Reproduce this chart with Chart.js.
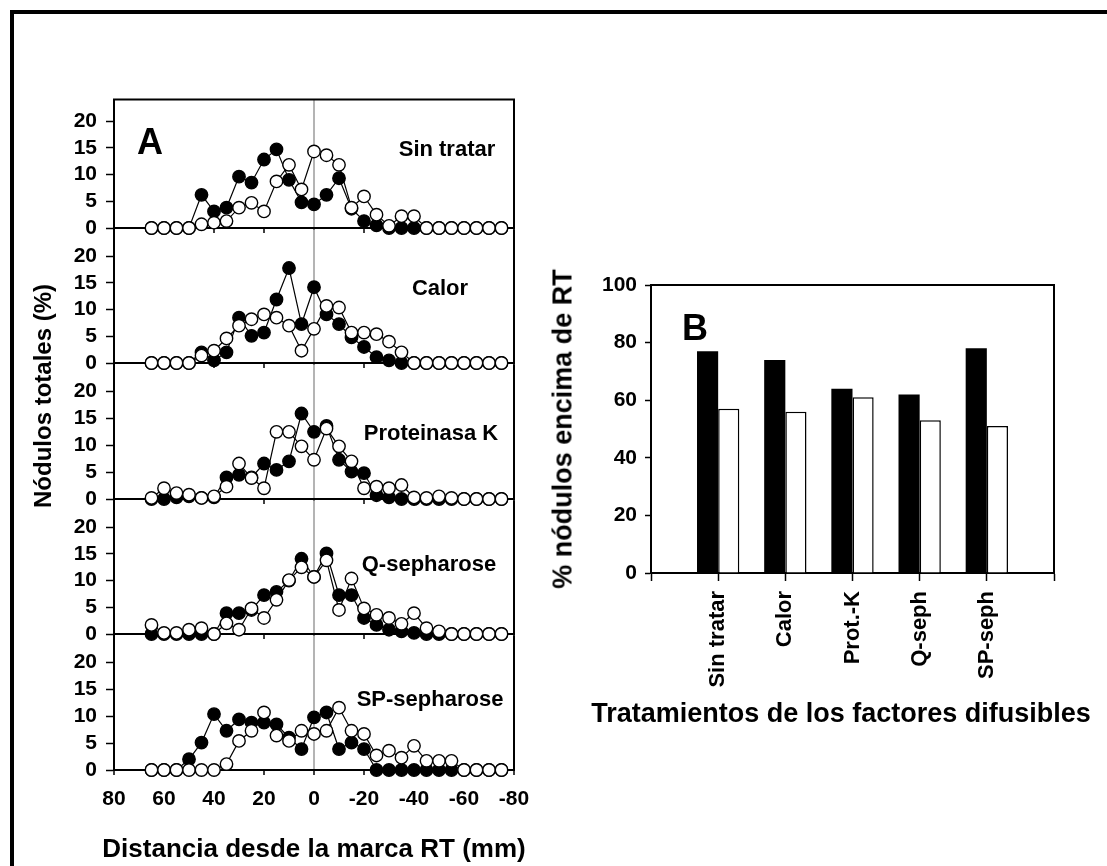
<!DOCTYPE html>
<html lang="es">
<head>
<meta charset="utf-8">
<title>Nódulos totales y factores difusibles</title>
<script src="https://cdn.jsdelivr.net/npm/chart.js@4.4.1/dist/chart.umd.min.js"></script>
<style>
    html, body { margin: 0; padding: 0; background: #fff; overflow: hidden; }
    #page { position: relative; width: 1107px; height: 866px; overflow: hidden; }
    #frame { position: absolute; left: 10px; top: 10px; width: 1200px; height: 1000px; border: 4px solid #000; }
    canvas { position: absolute; }
    .title {
        position: absolute;
        font: bold 26px 'Liberation Sans', Arial, sans-serif;
        color: #000;
        white-space: nowrap;
        transform: translate(-50%, -50%);
    }
    .title.vert { transform: translate(-50%, -50%) rotate(-90deg); }
</style>
</head>
<body>
<div id="page">
    <div id="frame"></div>
</div>
<script>
// Distance from the RT mark (mm), one reading every 5 mm
const distances = [65, 60, 55, 50, 45, 40, 35, 30, 25, 20, 15, 10, 5, 0, -5,
    -10, -15, -20, -25, -30, -35, -40, -45, -50, -55, -60, -65, -70, -75];
const distanceTicks = [80, 60, 40, 20, 0, -20, -40, -60, -80];
const noduleTicks = [0, 5, 10, 15, 20];

const panelNames = ['Sin tratar', 'Calor', 'Proteinasa K', 'Q-sepharose', 'SP-sepharose'];

// Nodules per position (%), filled and open symbols
const sinTratarFilled = [0, 0, 0, 0, 6.2, 3.1, 3.8, 9.6, 8.5, 12.8, 14.7, 9.0, 4.8, 4.4, 6.2,
    9.3, 3.6, 1.3, 0.5, 0, 0, 0, 0, 0, 0, 0, 0, 0, 0];
const sinTratarOpen = [0, 0, 0, 0, 0.7, 1.0, 1.3, 3.8, 4.7, 3.1, 8.7, 11.8, 7.2, 14.3, 13.6,
    11.8, 3.8, 5.9, 2.5, 0.4, 2.2, 2.2, 0, 0, 0, 0, 0, 0, 0];

const calorFilled = [0, 0, 0, 0, 2.0, 0.5, 2.0, 8.5, 5.1, 5.7, 11.9, 17.8, 7.3, 14.2, 9.1,
    7.3, 4.8, 3.0, 1.1, 0.5, 0, 0, 0, 0, 0, 0, 0, 0, 0];
const calorOpen = [0, 0, 0, 0, 1.4, 2.3, 4.6, 7.0, 8.2, 9.1, 8.5, 7.0, 2.3, 6.4, 10.7,
    10.4, 5.7, 5.7, 5.4, 4.0, 2.0, 0, 0, 0, 0, 0, 0, 0, 0];

const protKFilled = [0, 0, 0.3, 0.5, 0.2, 0.3, 4.0, 4.5, 4.0, 6.6, 5.4, 7.0, 15.9, 12.5, 13.6,
    7.3, 5.1, 4.8, 0.7, 0.3, 0, 0, 0, 0, 0, 0, 0, 0, 0];
const protKOpen = [0.2, 2.0, 1.1, 0.8, 0.2, 0.5, 2.3, 6.6, 3.9, 2.0, 12.5, 12.5, 9.8, 7.3, 13.1,
    9.8, 7.0, 2.0, 2.3, 2.0, 2.6, 0.3, 0.2, 0.5, 0.2, 0, 0, 0, 0];

const qSephFilled = [0, 0, 0, 0, 0, 0, 3.9, 3.9, 4.5, 7.3, 7.9, 10.0, 14.1, 10.7, 15.1,
    7.3, 7.3, 3.0, 1.7, 0.8, 0.5, 0.2, 0, 0, 0, 0, 0, 0, 0];
const qSephOpen = [1.7, 0.2, 0.2, 0.8, 1.1, 0, 2.0, 0.8, 4.8, 3.0, 6.4, 10.1, 12.5, 10.7, 13.8,
    4.5, 10.4, 4.8, 3.6, 3.0, 1.9, 3.9, 1.1, 0.5, 0, 0, 0, 0, 0];

const spSephFilled = [0, 0, 0, 2.0, 5.1, 10.4, 7.3, 9.4, 8.8, 8.8, 8.5, 6.0, 3.9, 9.8, 10.7,
    3.9, 5.1, 3.9, 0, 0, 0, 0, 0, 0, 0, 0, 0, 0, 0];
const spSephOpen = [0, 0, 0, 0, 0, 0, 1.1, 5.4, 7.3, 10.7, 6.4, 5.4, 7.3, 6.7, 7.3,
    11.6, 7.3, 6.7, 2.7, 3.6, 2.3, 4.5, 1.7, 1.7, 1.7, 0, 0, 0, 0];

// Panel B: % of nodules above the RT mark
const treatments = ['Sin tratar', 'Calor', 'Prot.-K', 'Q-seph', 'SP-seph'];
const aboveRTFilled = [77, 74, 64, 62, 78];
const aboveRTOpen = [57, 56, 61, 53, 51];
const percentTicks = [0, 20, 40, 60, 80, 100];

const FONT = "'Liberation Sans', Arial, sans-serif";
Chart.defaults.font.family = FONT;
Chart.defaults.font.weight = 'bold';
Chart.defaults.color = '#000';

// Lines the axes do not draw: top and right edges of a plot
const frameBox = {
    id: 'frameBox',
    afterDraw(chart, args, opts) {
        const { ctx, chartArea: a } = chart;
        ctx.save();
        ctx.strokeStyle = '#000';
        ctx.lineWidth = 2;
        ctx.beginPath();
        if (opts.top) {
            ctx.moveTo(a.left - 1, a.top);
            ctx.lineTo(a.right + 1, a.top);
        }
        if (opts.right) {
            ctx.moveTo(a.right, a.top);
            ctx.lineTo(a.right, a.bottom);
        }
        ctx.stroke();
        ctx.restore();
    }
};

// Free text inside a plot, offsets from the plot's top-left corner
const panelText = {
    id: 'panelText',
    afterDraw(chart, args, opts) {
        const { ctx, chartArea: a } = chart;
        (opts.items || []).forEach(item => {
            ctx.save();
            ctx.font = `bold ${item.size}px ${FONT}`;
            ctx.fillStyle = '#000';
            ctx.textAlign = item.align || 'left';
            ctx.textBaseline = item.baseline || 'middle';
            ctx.fillText(item.text, a.left + item.dx, a.top + item.dy);
            ctx.restore();
        });
    }
};

const page = document.getElementById('page');

function addCanvas(left, top, width, height) {
    const canvas = document.createElement('canvas');
    canvas.width = width;
    canvas.height = height;
    canvas.style.left = left + 'px';
    canvas.style.top = top + 'px';
    canvas.style.width = width + 'px';
    canvas.style.height = height + 'px';
    page.appendChild(canvas);
    return canvas;
}

function addTitle(text, x, y, size, vertical) {
    const div = document.createElement('div');
    div.className = vertical ? 'title vert' : 'title';
    div.textContent = text;
    div.style.left = x + 'px';
    div.style.top = y + 'px';
    div.style.fontSize = size + 'px';
    page.appendChild(div);
}

function pointsOf(values) {
    return distances.map((d, i) => ({ x: d, y: values[i] }));
}

// ---- Panel A: five stacked distributions ----
const panelSeries = [
    [sinTratarFilled, sinTratarOpen],
    [calorFilled, calorOpen],
    [protKFilled, protKOpen],
    [qSephFilled, qSephOpen],
    [spSephFilled, spSephOpen]
];
const zeroLines = [228, 363, 499, 634, 770];
const labelSpots = [
    { dx: 333, dy: 50 },
    { dx: 326, dy: 59 },
    { dx: 317, dy: 69 },
    { dx: 315, dy: 64 },
    { dx: 316, dy: 64 }
];
const PAD_TOP = 20, AXIS_H = 60, A_WIDTH = 560;

const markerStyle = {
    borderColor: '#000',
    borderWidth: 1.2,
    pointBorderColor: '#000',
    pointBorderWidth: 1.4,
    pointRadius: 6.2,
    clip: false
};

panelSeries.forEach(([filled, open], k) => {
    const zero = zeroLines[k];
    const top = k === 0 ? zero - 130 : zeroLines[k - 1];
    const last = k === panelSeries.length - 1;
    const canvas = addCanvas(0, top - PAD_TOP, A_WIDTH, zero - top + PAD_TOP + AXIS_H);

    const items = [{ text: panelNames[k], size: 22, align: 'center', dx: labelSpots[k].dx, dy: labelSpots[k].dy }];
    if (k === 0) items.push({ text: 'A', size: 36, dx: 23, dy: 54, baseline: 'alphabetic' });

    new Chart(canvas.getContext('2d'), {
        type: 'line',
        data: {
            datasets: [
                { ...markerStyle, data: pointsOf(open), order: 0, pointBackgroundColor: '#fff' },
                { ...markerStyle, data: pointsOf(filled), order: 1, pointBackgroundColor: '#000' }
            ]
        },
        options: {
            responsive: false,
            animation: false,
            events: [],
            layout: { autoPadding: false, padding: { top: PAD_TOP, right: A_WIDTH - 514, bottom: 0, left: 0 } },
            plugins: {
                legend: { display: false },
                tooltip: { enabled: false },
                frameBox: { top: k === 0, right: true },
                panelText: { items }
            },
            scales: {
                x: {
                    type: 'linear',
                    reverse: true,
                    min: -80,
                    max: 80,
                    afterBuildTicks: s => { s.ticks = distanceTicks.map(v => ({ value: v })); },
                    afterFit: s => { s.height = AXIS_H; },
                    border: { color: '#000', width: 2 },
                    grid: {
                        color: c => (c.tick && c.tick.value === 0 ? '#b4b4b4' : 'rgba(0,0,0,0)'),
                        lineWidth: 2,
                        tickColor: '#000',
                        tickWidth: 1.5,
                        tickLength: 5
                    },
                    ticks: { display: last, font: { size: 21 }, padding: 12, maxRotation: 0 }
                },
                y: {
                    min: 0,
                    max: k === 0 ? 24 : 25,
                    afterBuildTicks: s => { s.ticks = noduleTicks.map(v => ({ value: v })); },
                    afterFit: s => { s.width = 114; },
                    border: { color: '#000', width: 2 },
                    grid: { drawOnChartArea: false, tickColor: '#000', tickWidth: 1.5, tickLength: 8 },
                    ticks: { font: { size: 21 }, padding: 9 }
                }
            }
        },
        plugins: [frameBox, panelText]
    });
});

// ---- Panel B: share of nodules above the RT mark ----
const bCanvas = addCanvas(540, 240, 567, 520);
const bLabels = ['', ...treatments, ''];
new Chart(bCanvas.getContext('2d'), {
    type: 'bar',
    data: {
        labels: bLabels,
        datasets: [
            {
                data: [null, ...aboveRTFilled, null],
                backgroundColor: '#000',
                borderColor: '#000',
                borderWidth: 0
            },
            {
                data: [null, ...aboveRTOpen, null],
                backgroundColor: '#fff',
                borderColor: '#000',
                borderWidth: 1.5
            }
        ]
    },
    options: {
        responsive: false,
        animation: false,
        events: [],
        categoryPercentage: 0.63,
        barPercentage: 1.0,
        layout: { autoPadding: false, padding: { top: 45, right: 53, bottom: 0, left: 0 } },
        plugins: {
            legend: { display: false },
            tooltip: { enabled: false },
            frameBox: { top: true, right: true },
            panelText: { items: [{ text: 'B', size: 36, dx: 31, dy: 55, baseline: 'alphabetic' }] }
        },
        scales: {
            x: {
                offset: false,
                afterFit: s => { s.height = 187; },
                border: { color: '#000', width: 2 },
                grid: { offset: false, drawOnChartArea: false, tickColor: '#000', tickWidth: 1.5, tickLength: 8 },
                ticks: { font: { size: 22 }, padding: 10, minRotation: 90, maxRotation: 90, autoSkip: false }
            },
            y: {
                min: 0,
                max: 100,
                afterBuildTicks: s => { s.ticks = percentTicks.map(v => ({ value: v })); },
                afterFit: s => { s.width = 111; },
                border: { color: '#000', width: 2 },
                grid: { drawOnChartArea: false, tickColor: '#000', tickWidth: 1.5, tickLength: 6 },
                ticks: { font: { size: 21 }, padding: 8 }
            }
        }
    },
    plugins: [frameBox, panelText]
});

// Axis titles
addTitle('Nódulos totales (%)', 43, 396, 24, true);
addTitle('Distancia desde la marca RT (mm)', 314, 848, 26, false);
addTitle('% nódulos encima de RT', 563, 429, 27, true);
addTitle('Tratamientos de los factores difusibles', 841, 713, 27, false);
</script>
</body>
</html>
